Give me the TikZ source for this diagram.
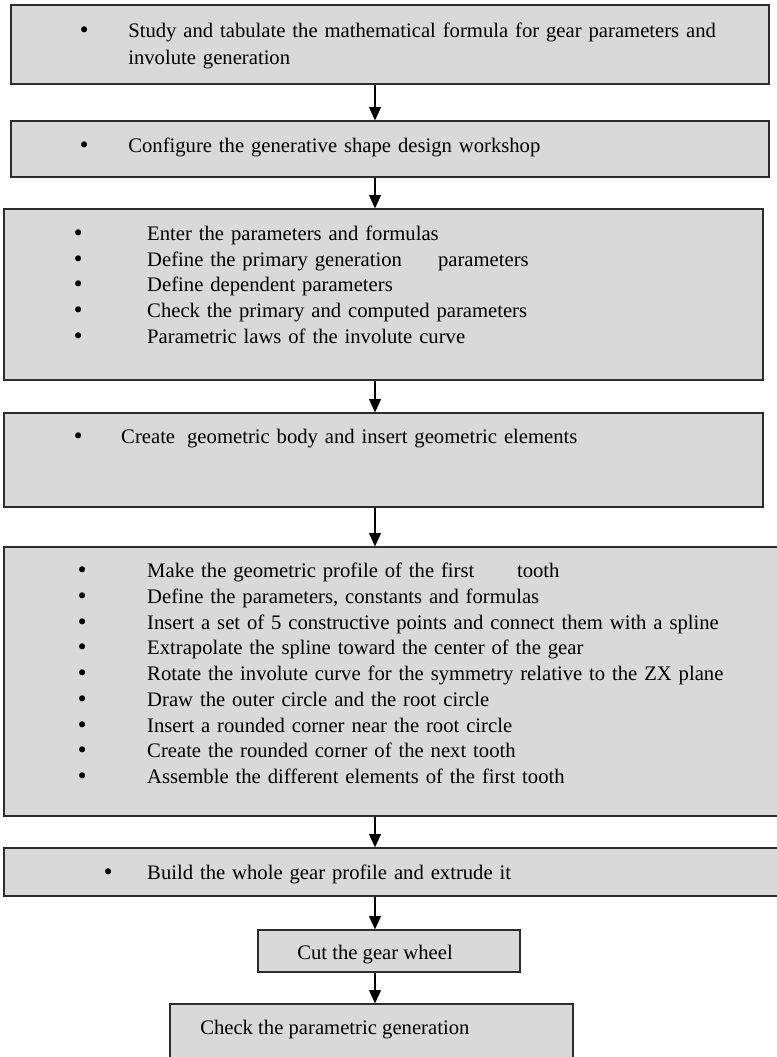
\documentclass[tikz,border=0pt]{standalone}
\usepackage{fontspec}
\setmainfont{Liberation Serif}
\newfontfamily\bulletfont{DejaVu Sans}
\usetikzlibrary{arrows.meta}
\definecolor{boxfill}{RGB}{217,217,217}
\definecolor{boxline}{RGB}{45,45,45}
\newcommand{\gearbullet}[1]{\makebox[#1][l]{\bulletfont •}}

\begin{document}
\begin{tikzpicture}[
    x=0.75pt, y=0.75pt,
    box/.style={rectangle, draw=boxline, line width=1pt, fill=boxfill, inner sep=0pt},
    itemlist/.style={inner sep=0pt, text width=560pt, align=left, anchor=base west, font=\fontsize{15.5pt}{19.3pt}\selectfont},
    oneline/.style={inner sep=0pt, anchor=base west, font=\fontsize{15.5pt}{19.3pt}\selectfont},
    arrow/.style={->, >={Triangle[length=10pt, width=9pt]}, line width=1pt}
]
    \useasboundingbox (0,0) rectangle (777,-1057);
    \clip (0,0) rectangle (777,-1057);
    \coordinate (axis) at (375,0);

    % Boxes
    \node[box, minimum width=568.5pt, minimum height=59.25pt] (formula) at (390,-44.5) {};
    \node[box, minimum width=568.5pt, minimum height=42pt] (workshop) at (390,-149) {};
    \node[box, minimum width=569.25pt, minimum height=128.25pt] (params) at (383.5,-294.5) {};
    \node[box, minimum width=569.25pt, minimum height=70.5pt] (body) at (383.5,-460) {};
    \node[box, minimum width=593.25pt, minimum height=201.75pt] (tooth) at (399.5,-681.5) {};
    \node[box, minimum width=593.25pt, minimum height=36pt] (profile) at (399.5,-872) {};
    \node[box, minimum width=196.5pt, minimum height=31.5pt] (cut) at (389,-951) {};
    \node[box, minimum width=302.25pt, minimum height=60pt] (check) at (371.5,-1044) {};

    % Texts
    \node[itemlist] (formulatext) at (77.9,-37) {\gearbullet{37.6pt}Study and tabulate the mathematical formula for gear parameters and\\[1.2pt]
        \hspace*{37.6pt}involute generation};
    \node[itemlist] (workshoptext) at (77.9,-152) {\gearbullet{37.6pt}Configure the generative shape design workshop};
    \node[itemlist] (paramstext) at (71.9,-240.5) {\gearbullet{56.3pt}Enter the parameters and formulas\\
        \gearbullet{56.3pt}Define the primary generation\hspace{27pt}parameters\\
        \gearbullet{56.3pt}Define dependent parameters\\
        \gearbullet{56.3pt}Check the primary and computed parameters\\
        \gearbullet{56.3pt}Parametric laws of the involute curve};
    \node[itemlist] (bodytext) at (71.9,-443) {\gearbullet{36.8pt}Create\hspace{9pt}geometric body and insert geometric elements};
    \node[itemlist] (toothtext) at (75.9,-577.7) {\gearbullet{53.3pt}Make the geometric profile of the first\hspace{32pt}tooth\\
        \gearbullet{53.3pt}Define the parameters, constants and formulas\\
        \gearbullet{53.3pt}Insert a set of 5 constructive points and connect them with a spline\\
        \gearbullet{53.3pt}Extrapolate the spline toward the center of the gear\\
        \gearbullet{53.3pt}Rotate the involute curve for the symmetry relative to the ZX plane\\
        \gearbullet{53.3pt}Draw the outer circle and the root circle\\
        \gearbullet{53.3pt}Insert a rounded corner near the root circle\\
        \gearbullet{53.3pt}Create the rounded corner of the next tooth\\
        \gearbullet{53.3pt}Assemble the different elements of the first tooth};
    \node[itemlist] (profiletext) at (101.9,-879) {\gearbullet{33.8pt}Build the whole gear profile and extrude it};
    \node[oneline] (cuttext) at (297,-959) {Cut the gear wheel};
    \node[oneline] (checktext) at (200,-1034) {Check the parametric generation};

    % Arrows
    \draw[arrow] (formula.south -| axis) -- (workshop.north -| axis);
    \draw[arrow] (workshop.south -| axis) -- (params.north -| axis);
    \draw[arrow] (params.south -| axis) -- (body.north -| axis);
    \draw[arrow] (body.south -| axis) -- (tooth.north -| axis);
    \draw[arrow] (tooth.south -| axis) -- (profile.north -| axis);
    \draw[arrow] (profile.south -| axis) -- (cut.north -| axis);
    \draw[arrow] (cut.south -| axis) -- (check.north -| axis);

\end{tikzpicture}
\end{document}
